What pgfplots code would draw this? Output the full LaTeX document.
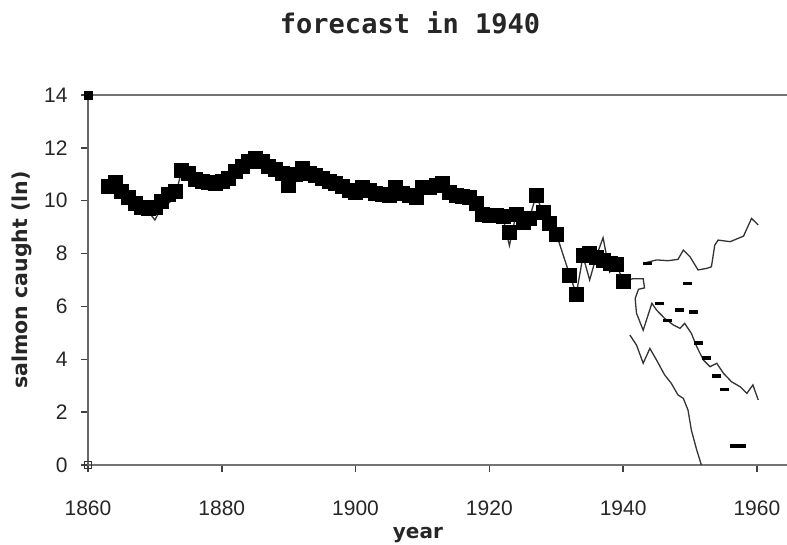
\documentclass[border=0pt]{standalone}
\usepackage{pgfplots}
\pgfplotsset{compat=1.18}
\usepackage{fontspec}
\setmainfont{Liberation Sans}
\newfontfamily\labfont{DejaVu Sans}
\newfontfamily\titfont{DejaVu Sans Mono}

\pgfplotstableread{
year v
1863 10.55
1864 10.7
1865 10.35
1866 10.15
1867 9.9
1868 9.77
1869 9.7
1870 9.75
1871 10.0
1872 10.25
1873 10.35
1874 11.15
1875 11.05
1876 10.8
1877 10.72
1878 10.7
1879 10.66
1880 10.72
1881 10.85
1882 11.1
1883 11.3
1884 11.5
1885 11.6
1886 11.48
1887 11.3
1888 11.2
1889 11.04
1890 10.6
1891 11.0
1892 11.22
1893 11.05
1894 10.95
1895 10.85
1896 10.75
1897 10.65
1898 10.53
1899 10.38
1900 10.34
1901 10.5
1902 10.4
1903 10.3
1904 10.25
1905 10.2
1906 10.5
1907 10.3
1908 10.2
1909 10.15
1910 10.5
1911 10.5
1912 10.6
1913 10.65
1914 10.34
1915 10.22
1916 10.18
1917 10.15
1918 9.9
1919 9.5
1920 9.46
1921 9.46
1922 9.4
1923 8.8
1924 9.5
1925 9.2
1926 9.35
1927 10.2
1928 9.55
1929 9.15
1930 8.75
1932 7.2
1933 6.47
1934 7.95
1935 8.0
1936 7.85
1937 7.75
1938 7.65
1939 7.6
1940 6.95
}\tabObserved

\pgfplotstableread{
year v
1863 10.55
1864 10.7
1865 10.35
1866 10.15
1867 9.9
1868 9.77
1869 9.6
1870 9.27
1871 9.75
1872 9.9
1873 10.1
1874 11.15
1875 11.05
1876 10.8
1877 10.72
1878 10.7
1879 10.66
1880 10.72
1881 10.85
1882 11.1
1883 11.3
1884 11.5
1885 11.6
1886 11.48
1887 11.3
1888 11.2
1889 11.04
1890 10.6
1891 11.0
1892 11.22
1893 11.05
1894 10.95
1895 10.85
1896 10.75
1897 10.65
1898 10.53
1899 10.38
1900 10.34
1901 10.5
1902 10.4
1903 10.3
1904 10.25
1905 10.2
1906 10.5
1907 10.3
1908 10.2
1909 10.15
1910 10.5
1911 10.5
1912 10.6
1913 10.65
1914 10.34
1915 10.22
1916 10.18
1917 10.15
1918 9.9
1919 9.5
1920 9.46
1921 9.46
1922 9.4
1923 8.3
1924 9.5
1925 9.2
1926 9.35
1927 10.2
1928 9.55
1929 9.15
1930 8.75
1932 7.2
1933 6.47
1934 7.9
1935 7.0
1936 7.9
1937 8.6
1938 7.3
1939 7.6
1940 6.95
}\tabFitted

\pgfplotstableread{
year v
1943.0 7.63
1945.0 7.76
1946.7 7.73
1948.2 7.78
1949.0 8.13
1950.0 7.88
1951.2 7.38
1952.5 7.44
1953.2 7.50
1953.7 8.32
1954.2 8.51
1956.0 8.45
1958.0 8.66
1959.2 9.33
1960.2 9.08
}\tabUpper

\pgfplotstableread{
year v
1940.0 6.95
1941.5 7.05
1943.0 7.05
1943.2 6.70
1942.3 6.65
1941.8 6.30
1942.0 5.74
1943.0 5.10
1944.3 6.12
1945.0 5.86
1946.2 5.55
1947.5 5.30
1948.5 5.17
1949.2 5.36
1950.2 4.98
1951.0 4.48
1952.0 3.97
1953.0 3.72
1954.0 3.85
1955.0 3.47
1956.2 3.15
1957.5 2.96
1958.5 2.71
1959.4 3.03
1960.2 2.46
}\tabMiddle

\pgfplotstableread{
year v
1941.0 4.92
1942.0 4.54
1943.0 3.85
1944.0 4.41
1945.0 3.97
1946.2 3.41
1947.2 3.09
1948.2 2.65
1949.0 2.52
1949.7 2.08
1950.2 1.32
1951.0 0.57
1951.7 0.00
}\tabLower

\pgfplotstableread{
year v
1943.6 7.63
1945.5 6.12
1946.7 5.46
1948.5 5.87
1949.6 6.87
1950.5 5.78
1951.3 4.62
1952.5 4.04
1953.9 3.37
1955.2 2.86
}\tabDashes

\pgfplotstableread{
year v
1957.2 0.72
}\tabWideDash

\begin{document}
\begin{tikzpicture}
\begin{axis}[
  at={(88pt,80pt)}, anchor=south west,
  scale only axis,
  width=699pt, height=370pt,
  xmin=1860, xmax=1964.5,
  ymin=0, ymax=14,
  axis x line*=box,
  axis y line*=left,
  x axis line style={-, black!55, line width=1.3pt},
  y axis line style={-, black!60, line width=1.8pt},
  xtick={1860,1880,1900,1920,1940,1960},
  ytick={0,2,4,6,8,10,12,14},
  tick pos=left,
  tick align=outside,
  major tick length=7pt,
  tick style={black!75, line width=1.5pt},
  /pgf/number format/assume math mode=true,
  /pgf/number format/1000 sep={},
  tick label style={font=\fontsize{21}{24}\selectfont, black!85},
  xticklabel style={yshift=-25pt},
  yticklabel style={xshift=-10pt},
  title={forecast in 1940},
  title style={font=\titfont\bfseries\fontsize{27}{30}\selectfont, at={(rel axis cs:0.4607,1.18)}, anchor=center, black!85},
  xlabel={year},
  xlabel style={font=\labfont\bfseries\fontsize{20}{24}\selectfont, at={(rel axis cs:0.472,-0.19)}, anchor=center, black!85},
  ylabel={salmon caught (ln)},
  ylabel style={font=\labfont\bfseries\fontsize{20.5}{24}\selectfont, at={(rel axis cs:-0.0944,0.5)}, anchor=center, black!85},
  clip=false,
]
\draw[black!55, line width=1.3pt] (rel axis cs:0,1) -- (rel axis cs:1,1);
\addplot[black!80, line width=1.3pt] table[x=year,y=v] {\tabFitted};
\addplot[black, only marks, mark=square*, mark size=7pt] table[x=year,y=v] {\tabObserved};
\addplot[black!80, line width=1.3pt] table[x=year,y=v] {\tabUpper};
\addplot[black!80, line width=1.3pt] table[x=year,y=v] {\tabMiddle};
\addplot[black!80, line width=1.3pt] table[x=year,y=v] {\tabLower};
\addplot[black, only marks, mark=-, mark size=4.5pt, mark options={line width=3.5pt}] table[x=year,y=v] {\tabDashes};
\addplot[black, only marks, mark=-, mark size=8pt, mark options={line width=3.5pt}] table[x=year,y=v] {\tabWideDash};
\addplot[black, only marks, mark=square*, mark size=4pt] coordinates {(1860,14)};
\addplot[black!80, only marks, mark=square, mark size=3.5pt, mark options={line width=1.5pt}] coordinates {(1860,0)};
\end{axis}
\pgfresetboundingbox
\useasboundingbox (0,0) rectangle (787pt,545pt);
\end{tikzpicture}
\end{document}
